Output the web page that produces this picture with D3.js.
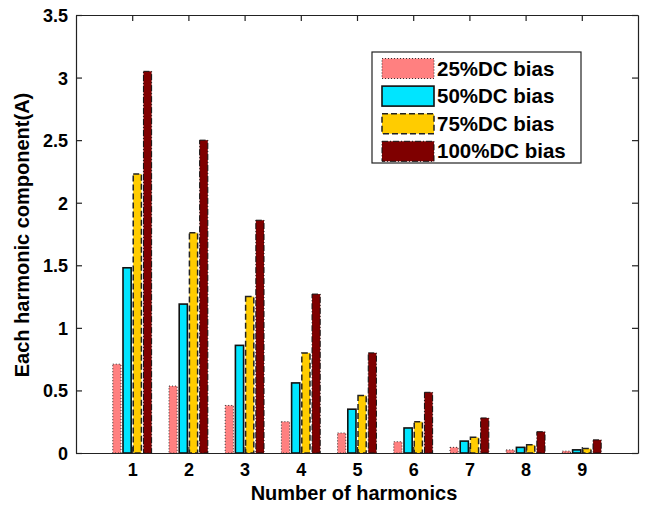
<!DOCTYPE html>
<html>
<head>
<meta charset="utf-8">
<script src="https://cdn.jsdelivr.net/npm/d3@7"></script>
<style>
  html, body { margin: 0; padding: 0; background: #fff; }
  svg { display: block; }
  text { font-family: "Liberation Sans", Arial, sans-serif; font-weight: bold; fill: #000; }
</style>
</head>
<body>
<svg id="chart" width="647" height="507"></svg>
<script>
// ---- data ----
const categories = [1, 2, 3, 4, 5, 6, 7, 8, 9];
const seriesNames = ["25%DC bias", "50%DC bias", "75%DC bias", "100%DC bias"];
const bias25  = [0.71, 0.535, 0.38, 0.25, 0.16, 0.09, 0.045, 0.025, 0.015];
const bias50  = [1.48, 1.19, 0.86, 0.56, 0.35, 0.20, 0.095, 0.045, 0.025];
const bias75  = [2.23, 1.76, 1.25, 0.80, 0.46, 0.25, 0.125, 0.065, 0.035];
const bias100 = [3.05, 2.50, 1.86, 1.27, 0.80, 0.485, 0.28, 0.17, 0.105];
const yTicks = [0, 0.5, 1, 1.5, 2, 2.5, 3, 3.5];
const xTicks = [1, 2, 3, 4, 5, 6, 7, 8, 9];

const seriesValues = [bias25, bias50, bias75, bias100];
const styles = [
  { fill: "#FF8080", stroke: "#333", dash: "1,2", sw: 1 },
  { fill: "#00E5FF", stroke: "#111", dash: null, sw: 1.6 },
  { fill: "#FFCC00", stroke: "#222", dash: "6,3", sw: 1.5 },
  { fill: "#7F0000", stroke: "#111", dash: "6,2,1,2", sw: 1 }
];

const svg = d3.select("#chart");
const L = 76, R = 638, T = 15, B = 453;
const x = d3.scaleLinear().domain([0, 10]).range([L, R]);
const y = d3.scaleLinear().domain([0, 3.5]).range([B, T]);

// MATLAB grouped bar geometry
const n = seriesValues.length;
const groupWidth = Math.min(0.8, n / (n + 1.5));
const step = groupWidth / n;
const barW = step * 0.8;

// bars
seriesValues.forEach((vals, i) => {
  const st = styles[i];
  const off = (i - (n - 1) / 2) * step;
  svg.append("g").selectAll("rect").data(vals).join("rect")
    .attr("x", (d, j) => x(categories[j] + off - barW / 2))
    .attr("width", x(barW) - x(0))
    .attr("y", d => y(d))
    .attr("height", d => y(0) - y(d))
    .attr("fill", st.fill)
    .attr("stroke", st.stroke)
    .attr("stroke-width", st.sw)
    .attr("stroke-dasharray", st.dash);
});

// axes
const fmt = d => String(d);
const gl = svg.append("g").attr("transform", `translate(${L},0)`)
  .call(d3.axisLeft(y).tickValues(yTicks).tickFormat(fmt).tickSizeInner(-6).tickSizeOuter(0).tickPadding(8));
const gb = svg.append("g").attr("transform", `translate(0,${B})`)
  .call(d3.axisBottom(x).tickValues(xTicks).tickFormat(fmt).tickSizeInner(-6).tickSizeOuter(0).tickPadding(10));
const gr = svg.append("g").attr("transform", `translate(${R},0)`)
  .call(d3.axisRight(y).tickValues(yTicks).tickFormat("").tickSizeInner(-6).tickSizeOuter(0));
const gt = svg.append("g").attr("transform", `translate(0,${T})`)
  .call(d3.axisTop(x).tickValues(xTicks).tickFormat("").tickSizeInner(-6).tickSizeOuter(0));
[gl, gb, gr, gt].forEach(g => {
  g.attr("font-size", null).attr("font-family", null);
  g.select(".domain").attr("stroke", "#222").attr("stroke-width", 1.2);
  g.selectAll(".tick line").attr("stroke", "#222").attr("stroke-width", 1.2);
  g.selectAll(".tick text")
    .style("font-size", "18px").style("font-weight", "bold")
    .style("font-family", "'Liberation Sans', Arial, sans-serif").attr("fill", "#000");
});
gl.selectAll(".tick text").attr("dy", "0.36em");

// axis labels
svg.append("text")
  .attr("x", (L + R) / 2 - 3).attr("y", 500)
  .attr("text-anchor", "middle").style("font-size", "20px")
  .text("Number of harmonics");
svg.append("text")
  .attr("transform", `translate(29,${(T + B) / 2 + 1}) rotate(-90)`)
  .attr("text-anchor", "middle").style("font-size", "20px")
  .text("Each harmonic component(A)");

// legend
const lg = svg.append("g");
lg.append("rect").attr("x", 372).attr("y", 52).attr("width", 209).attr("height", 111)
  .attr("fill", "#fff").attr("stroke", "#222").attr("stroke-width", 1.2);
seriesNames.forEach((name, i) => {
  const st = styles[i];
  const cy = 68.5 + i * 27.6;
  lg.append("rect").attr("x", 382).attr("y", cy - 10).attr("width", 52).attr("height", 20)
    .attr("fill", st.fill).attr("stroke", st.stroke).attr("stroke-width", st.sw)
    .attr("stroke-dasharray", st.dash);
  lg.append("text").attr("x", 437).attr("y", cy + 7).style("font-size", "20.5px").text(name);
});
</script>
</body>
</html>
